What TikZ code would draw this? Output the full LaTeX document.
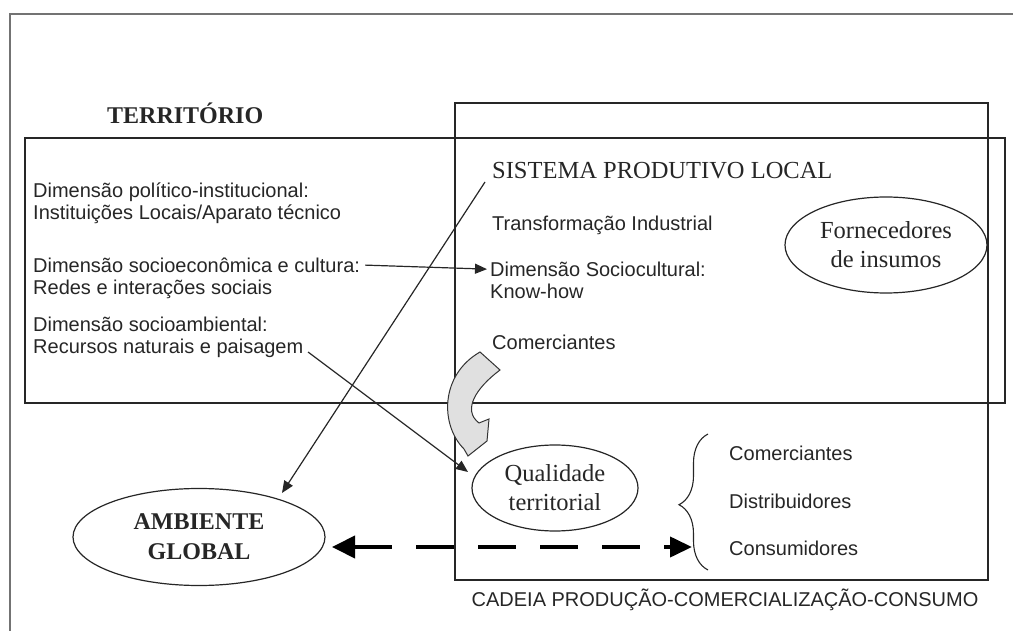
\documentclass[tikz,border=0pt]{standalone}
\usepackage{fontspec}
\setmainfont{Liberation Serif}
\setsansfont{Liberation Sans}
\usetikzlibrary{arrows.meta,shapes.geometric,decorations.pathreplacing}
\begin{document}
\begin{tikzpicture}[x=1pt,y=-1pt,
  box/.style={draw=black!85,line width=1.3pt},
  stxt/.style={font=\sffamily\fontsize{20}{22}\selectfont,inner sep=0pt,anchor=mid west,text=black!85},
  rtxt/.style={font=\rmfamily\fontsize{24.5}{29}\selectfont,inner sep=0pt,text=black!85},
  oval/.style={ellipse,draw=black!85,line width=1.2pt,inner sep=0pt,align=center,
    font=\rmfamily\fontsize{24.5}{29}\selectfont,text=black!85},
  conn/.style={draw=black!85,line width=1.2pt,-{Triangle[length=12pt,width=10pt]}},
]
\useasboundingbox (0,0) rectangle (1013,631);
% outer partial frame
\draw[draw=black!55,line width=2pt] (10,631) -- (10,14) -- (1013,14);
% boxes
\node[box,draw,minimum width=980,minimum height=265,inner sep=0pt] (terr) at (515,270.5) {};
\node[box,draw,minimum width=533,minimum height=477,inner sep=0pt] (cad) at (721.5,341.5) {};

\node[rtxt,font=\rmfamily\bfseries\fontsize{24}{29}\selectfont,anchor=mid west] (tt) at (107,121) {TERRITÓRIO};
\node[rtxt,anchor=mid west] (spl) at (492,176) {SISTEMA PRODUTIVO LOCAL};
\node[stxt] (ti) at (492,228) {Transformação Industrial};
\node[stxt] (dsc) at (490,274) {Dimensão Sociocultural:};
\node[stxt] (kh) at (490,296) {Know-how};
\node[stxt] (com) at (492,347) {Comerciantes};

\node[stxt] (d1) at (33,195) {Dimensão político-institucional:};
\node[stxt] (d1b) at (33,217) {Instituições Locais/Aparato técnico};
\node[stxt] (d2) at (33,270) {Dimensão socioeconômica e cultura:};
\node[stxt] (d2b) at (33,292) {Redes e interações sociais};
\node[stxt] (d3) at (33,329) {Dimensão socioambiental:};
\node[stxt] (d3b) at (33,351) {Recursos naturais e paisagem};

\node[oval,minimum width=202,minimum height=96] (forn) at (886,245) {Fornecedores\\de insumos};
\node[oval,minimum width=166,minimum height=86] (qual) at (555,488) {Qualidade\\territorial};
\node[oval,minimum width=252,minimum height=97,font=\rmfamily\bfseries\fontsize{24}{30}\selectfont] (amb) at (199,537) {AMBIENTE\\GLOBAL};

\node[stxt] (c1) at (729,458) {Comerciantes};
\node[stxt] (c2) at (729,506) {Distribuidores};
\node[stxt] (c3) at (729,553) {Consumidores};
\node[stxt,anchor=mid] (cap) at (725,604) {CADEIA PRODUÇÃO-COMERCIALIZAÇÃO-CONSUMO};

% brace
\coordinate (bb) at (708,570);
\coordinate (bt) at (708,434);
\draw[draw=black!85,line width=1.1pt,decorate,decoration={brace,amplitude=29pt,aspect=0.48}] (bb) -- (bt);

% connectors
\coordinate (s1) at (485,182);
\coordinate (e1) at (282,493);
\draw[conn] (s1) -- (e1);
\coordinate (s2) at (308,352);
\coordinate (e2) at (468,472);
\draw[conn] (s2) -- (e2);
\draw[conn] ([xshift=5pt]d2.east) -- ([xshift=-3pt]dsc.west);

% dashed double arrow
\coordinate (dl) at (332,547);
\coordinate (dr) at (692,547);
\draw[line width=4pt,draw=black,dash pattern=on 38pt off 24pt,
  {Triangle[length=23pt,width=22pt]}-{Triangle[length=22pt,width=20pt]}] (dl) -- (dr);

% curved block arrow
\draw[fill=black!12,draw=black!80,line width=1pt]
  (480,352) -- (500,370) .. controls (476,388) and (462,410) .. (479,423)
  -- (489,419) -- (487,441) -- (468,456) -- (464,449)
  .. controls (440,425) and (440,375) .. (480,352) -- cycle;
\end{tikzpicture}
\end{document}
